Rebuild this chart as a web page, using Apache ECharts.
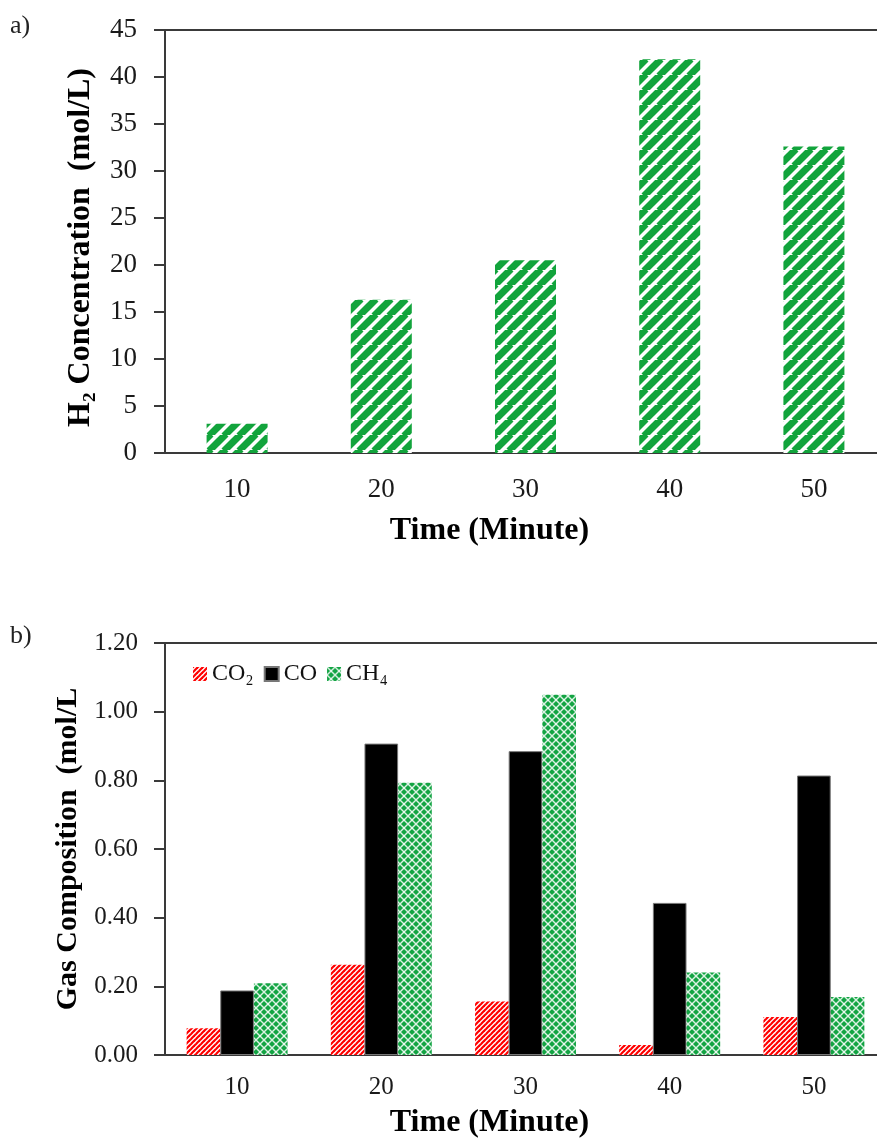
<!DOCTYPE html>
<html>
<head>
<meta charset="utf-8">
<script src="https://cdn.jsdelivr.net/npm/echarts@6/dist/echarts.min.js"></script>
<style>
html,body{margin:0;padding:0;background:#fff;}
#chart{width:877px;height:1140px;}
</style>
</head>
<body>
<div id="chart"></div>
<script>
// ---- data ----
const categories = ['10', '20', '30', '40', '50'];
const h2Values = [3.1, 16.3, 20.5, 41.9, 32.6];
const co2Values = [0.078, 0.263, 0.156, 0.029, 0.111];
const coValues = [0.188, 0.907, 0.885, 0.443, 0.814];
const ch4Values = [0.209, 0.793, 1.049, 0.240, 0.169];
const gasNames = ['CO₂', 'CO', 'CH₄'];

const FONT = "'Liberation Serif', 'DejaVu Serif', serif";
const AXIS = '#3a3a3a';

function stripeTile(size, color, bg, width) {
  const c = document.createElement('canvas');
  c.width = size; c.height = size;
  const g = c.getContext('2d');
  g.fillStyle = bg; g.fillRect(0, 0, size, size);
  g.strokeStyle = color; g.lineWidth = width;
  for (let k = -1; k <= 1; k++) {
    g.beginPath();
    g.moveTo(k * size - 1, size + 1);
    g.lineTo(k * size + size + 1, -1);
    g.stroke();
  }
  return {image: c, repeat: 'repeat'};
}
function latticeTile(size, color) {
  const c = document.createElement('canvas');
  c.width = size; c.height = size;
  const g = c.getContext('2d');
  g.fillStyle = color; g.fillRect(0, 0, size, size);
  g.strokeStyle = 'rgba(255,255,255,0.85)'; g.lineWidth = 1.4;
  g.beginPath(); g.moveTo(0, 0); g.lineTo(size, size); g.stroke();
  g.beginPath(); g.moveTo(size, 0); g.lineTo(0, size); g.stroke();
  g.fillStyle = color;
  g.fillRect(size / 2 - 1, 0, 2, 2);
  g.fillRect(0, size / 2 - 1, 2, 2);
  return {image: c, repeat: 'repeat'};
}

const greenStripe = stripeTile(15, '#12a43c', '#ffffff', 7);
const redStripe = stripeTile(5, '#ff0000', '#ffffff', 2.2);
const greenLattice = latticeTile(8, '#13a443');

const chart = echarts.init(document.getElementById('chart'), null, {renderer: 'canvas'});

function yAxisCommon(extra) {
  return Object.assign({
    type: 'value',
    axisLine: {show: true, lineStyle: {color: AXIS, width: 2}},
    axisTick: {show: true, length: 11, lineStyle: {color: AXIS, width: 2}},
    splitLine: {show: false},
    nameLocation: 'middle',
    nameRotate: 90
  }, extra);
}
function xAxisCommon(extra) {
  return Object.assign({
    type: 'category',
    data: categories,
    axisLine: {show: true, lineStyle: {color: AXIS, width: 2}},
    axisTick: {show: false},
    name: 'Time (Minute)',
    nameLocation: 'middle',
    nameTextStyle: {fontSize: 32, fontWeight: 'bold', color: '#000', fontFamily: FONT,
      padding: [0, 72, 0, 0]}
  }, extra);
}

chart.setOption({
  animation: false,
  backgroundColor: '#ffffff',
  title: [
    {text: 'a)', left: 10, top: 13, padding: 0,
     textStyle: {fontSize: 26, fontWeight: 'normal', color: '#222', fontFamily: FONT}},
    {text: 'b)', left: 10, top: 623, padding: 0,
     textStyle: {fontSize: 26, fontWeight: 'normal', color: '#222', fontFamily: FONT}}
  ],
  grid: [
    {left: 165, top: 30, width: 721, height: 423, show: true, borderColor: AXIS, borderWidth: 2,
     backgroundColor: 'transparent', containLabel: false, outerBoundsMode: 'none'},
    {left: 165, top: 643, width: 721, height: 412, show: true, borderColor: AXIS, borderWidth: 2,
     backgroundColor: 'transparent', containLabel: false, outerBoundsMode: 'none'}
  ],
  xAxis: [
    xAxisCommon({gridIndex: 0, nameGap: 62,
      axisLabel: {fontSize: 27, margin: 23, color: '#1a1a1a', fontFamily: FONT}}),
    xAxisCommon({gridIndex: 1, nameGap: 52,
      axisLabel: {fontSize: 25, margin: 20, color: '#1a1a1a', fontFamily: FONT}})
  ],
  yAxis: [
    yAxisCommon({gridIndex: 0, min: 0, max: 45, interval: 5,
      axisLabel: {fontSize: 27, margin: 28, color: '#1a1a1a', fontFamily: FONT},
      name: 'H₂ Concentration  (mol/L)', nameGap: 68,
      nameTextStyle: {fontSize: 32, fontWeight: 'bold', color: '#000', fontFamily: FONT,
        padding: [0, 12, 0, 0]}}),
    yAxisCommon({gridIndex: 1, min: 0, max: 1.2, interval: 0.2,
      axisLabel: {fontSize: 25, margin: 27, color: '#1a1a1a', fontFamily: FONT,
        formatter: v => v.toFixed(2)},
      name: 'Gas Composition  (mol/L', nameGap: 70,
      nameTextStyle: {fontSize: 30, fontWeight: 'bold', color: '#000', fontFamily: FONT}})
  ],
  legend: {
    data: gasNames,
    left: 193, top: 662, padding: 0,
    itemWidth: 14, itemHeight: 14, itemGap: 10,
    icon: 'rect',
    textStyle: {fontSize: 24, color: '#111', fontFamily: FONT}
  },
  series: [
    {type: 'bar', name: 'H2', xAxisIndex: 0, yAxisIndex: 0, data: h2Values,
     barWidth: 61, itemStyle: {color: greenStripe}},
    {type: 'bar', name: gasNames[0], xAxisIndex: 1, yAxisIndex: 1, data: co2Values,
     barGap: '0%', barCategoryGap: '30%', itemStyle: {color: redStripe}},
    {type: 'bar', name: gasNames[1], xAxisIndex: 1, yAxisIndex: 1, data: coValues,
     barGap: '0%', barCategoryGap: '30%', itemStyle: {color: '#000000', borderColor: '#777', borderWidth: 1}},
    {type: 'bar', name: gasNames[2], xAxisIndex: 1, yAxisIndex: 1, data: ch4Values,
     barGap: '0%', barCategoryGap: '30%', itemStyle: {color: greenLattice}}
  ]
});
</script>
</body>
</html>
